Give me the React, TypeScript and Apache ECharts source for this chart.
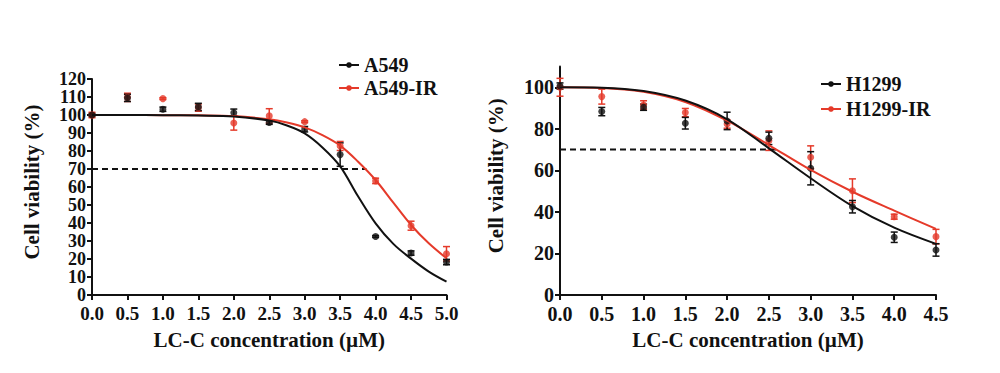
import React, { useEffect, useRef } from "react";
import * as echarts from "echarts";

// ---------- data ----------
const xA = [0, 0.5, 1, 1.5, 2, 2.5, 3, 3.5, 4, 4.5, 5];
const a549Mean = [100, 109.5, 103.2, 104.5, 101.3, 95.8, 92.1, 78.0, 32.5, 23.3, 18.3];
const a549Sem = [0.8, 2, 1.2, 2, 2, 1, 1.5, 6.5, 0.5, 1.2, 1.5];
const a549IrMean = [100, 109.8, 109.1, 104.1, 95.6, 99.5, 96.3, 82.8, 63.4, 38.5, 22.9];
const a549IrSem = [1.5, 2.3, 0.5, 2, 4, 4, 0.5, 2.5, 1.5, 2.5, 4];

const xFitA = [0, 0.5, 1, 1.5, 2, 2.5, 2.75, 3, 3.25, 3.5, 3.75, 4, 4.25, 4.5, 4.75, 5];
const a549Fit = [100, 100, 99.9, 99.7, 99.2, 96.9, 94.2, 89.8, 82, 71.5, 55, 39.8, 28.4, 20.2, 13, 7.4];
const a549IrFit = [100, 100, 99.9, 99.8, 99.4, 97.6, 95.8, 93.1, 88.8, 83.0, 74.2, 63.9, 51.3, 38.9, 28.7, 20.4];

const xB = [0, 0.5, 1, 1.5, 2, 2.5, 3, 3.5, 4, 4.5];
const h1299Mean = [100.6, 88.3, 90.4, 82.7, 83.8, 75.4, 61, 42.5, 27.8, 21.7];
const h1299Sem = [1.5, 2, 1.5, 2.8, 4.2, 3, 8, 3, 2.5, 3];
const h1299IrMean = [100, 95.5, 91.5, 87.8, 82.3, 74.3, 66.3, 50.2, 37.7, 28.1];
const h1299IrSem = [4.3, 3.6, 2, 2, 2, 4.7, 5.5, 5.7, 1.2, 3.5];

const xFitB = [0, 0.5, 1, 1.5, 2, 2.5, 3, 3.5, 4, 4.5];
const h1299Fit = [100, 99.8, 98.2, 93.6, 84.6, 70.6, 56.2, 42.8, 32.4, 24.6];
const h1299IrFit = [100, 99.7, 97.8, 92.9, 83.9, 72.2, 60.2, 49.7, 40.6, 31.8];

const dashA = [[0, 70], [3.87, 70]];
const dashB = [[0, 70], [2.6, 70]];

const yTicksB = [0, 20, 40, 60, 80, 100];

const BLACK = "#111111";
const RED = "#e53a2a";
const FONT = "'Liberation Serif', 'Times New Roman', serif";

const zip = (xs: number[], ys: number[]) => xs.map((x, i) => [x, ys[i]]);
const zip3 = (xs: number[], ys: number[], es: number[]) => xs.map((x, i) => [x, ys[i], es[i]]);

function errorSeries(name: string, idx: number, data: number[][], color: string, z: number) {
  return {
    type: "custom",
    name,
    xAxisIndex: idx,
    yAxisIndex: idx,
    z,
    encode: { x: 0, y: 1 },
    data,
    renderItem: (_params: any, api: any) => {
      const x = api.value(0);
      const m = api.value(1);
      const s = api.value(2);
      const top = api.coord([x, m + s]);
      const bot = api.coord([x, m - s]);
      const w = 3.5;
      const style = { stroke: color, lineWidth: 1.5 };
      return {
        type: "group",
        children: [
          { type: "line", shape: { x1: top[0], y1: top[1], x2: bot[0], y2: bot[1] }, style },
          { type: "line", shape: { x1: top[0] - w, y1: top[1], x2: top[0] + w, y2: top[1] }, style },
          { type: "line", shape: { x1: bot[0] - w, y1: bot[1], x2: bot[0] + w, y2: bot[1] }, style },
        ],
      };
    },
  };
}

function dotSeries(name: string, idx: number, data: number[][], color: string, z: number) {
  return {
    type: "scatter",
    name,
    xAxisIndex: idx,
    yAxisIndex: idx,
    z,
    symbol: "circle",
    symbolSize: 7,
    itemStyle: { color },
    data,
  };
}

function fitSeries(name: string, idx: number, data: number[][], color: string, z: number) {
  return {
    type: "line",
    name,
    xAxisIndex: idx,
    yAxisIndex: idx,
    z,
    smooth: 0.35,
    symbol: "circle",
    symbolSize: 7,
    showSymbol: false,
    itemStyle: { color },
    lineStyle: { color, width: 2 },
    data,
  };
}

function dashSeries(idx: number, data: number[][]) {
  return {
    type: "line",
    name: "ref" + idx,
    xAxisIndex: idx,
    yAxisIndex: idx,
    z: 1,
    symbol: "none",
    lineStyle: { color: BLACK, width: 2, type: [6, 4] },
    data,
  };
}

const axisLineStyle = { lineStyle: { color: BLACK, width: 2 } };
const tickStyle = { show: true, length: 5, lineStyle: { color: BLACK, width: 2 } };

export default function App() {
  const ref = useRef<HTMLDivElement>(null);
  useEffect(() => {
    if (!ref.current) return;
    const chart = echarts.init(ref.current, null, { renderer: "svg" });
    const xAxisCommon = (idx: number, max: number, labelSize: number) => ({
      type: "value",
      gridIndex: idx,
      min: 0,
      max,
      interval: 0.5,
      splitLine: { show: false },
      axisLine: { show: true, onZero: false, ...axisLineStyle },
      axisTick: tickStyle,
      axisLabel: {
        margin: 9,
        color: BLACK,
        fontFamily: FONT,
        fontWeight: "bold",
        fontSize: labelSize,
        showMinLabel: true,
        showMaxLabel: true,
        formatter: (v: number) => v.toFixed(1),
      },
      name: "LC-C concentration (µM)",
      nameLocation: "middle",
      nameGap: 34,
      nameTextStyle: { color: BLACK, fontFamily: FONT, fontWeight: "bold", fontSize: 21 },
    });
    const option: any = {
      animation: false,
      backgroundColor: "#ffffff",
      grid: [
        { left: 92, top: 79, width: 354.5, height: 216 },
        { left: 560, top: 66.5, width: 376, height: 228.5 },
      ],
      legend: [
        {
          data: ["A549", "A549-IR"],
          orient: "vertical",
          left: 333,
          top: 50,
          itemWidth: 20,
          itemHeight: 7,
          itemGap: 3,
          textStyle: { color: BLACK, fontFamily: FONT, fontWeight: "bold", fontSize: 20 },
        },
        {
          data: ["H1299", "H1299-IR"],
          orient: "vertical",
          left: 815,
          top: 69,
          itemWidth: 20,
          itemHeight: 7,
          itemGap: 5,
          textStyle: { color: BLACK, fontFamily: FONT, fontWeight: "bold", fontSize: 20 },
        },
      ],
      xAxis: [xAxisCommon(0, 5, 19), xAxisCommon(1, 4.5, 20)],
      yAxis: [
        {
          type: "value",
          gridIndex: 0,
          min: 0,
          max: 120,
          interval: 10,
          splitLine: { show: false },
          axisLine: { show: true, onZero: false, ...axisLineStyle },
          axisTick: tickStyle,
          axisLabel: {
            margin: 6,
            color: BLACK,
            fontFamily: FONT,
            fontWeight: "bold",
            fontSize: 18,
            lineHeight: 16,
            interval: 0,
            hideOverlap: false,
            showMinLabel: true,
            showMaxLabel: true,
          },
          name: "Cell viability (%)",
          nameLocation: "middle",
          nameGap: 50,
          nameTextStyle: {
            color: BLACK,
            fontFamily: FONT,
            fontWeight: "bold",
            fontSize: 21,
            padding: [0, 0, 0, 10],
          },
        },
        {
          type: "value",
          gridIndex: 1,
          min: 0,
          max: 110,
          interval: 20,
          splitLine: { show: false },
          axisLine: { show: true, onZero: false, ...axisLineStyle },
          axisTick: { ...tickStyle, customValues: yTicksB },
          axisLabel: {
            margin: 6,
            color: BLACK,
            fontFamily: FONT,
            fontWeight: "bold",
            fontSize: 20,
            customValues: yTicksB,
          },
          name: "Cell viability (%)",
          nameLocation: "middle",
          nameGap: 54,
          nameTextStyle: {
            color: BLACK,
            fontFamily: FONT,
            fontWeight: "bold",
            fontSize: 21,
            padding: [0, 0, 0, 10],
          },
        },
      ],
      series: [
        fitSeries("A549", 0, zip(xFitA, a549Fit), BLACK, 6),
        fitSeries("A549-IR", 0, zip(xFitA, a549IrFit), RED, 5),
        fitSeries("H1299", 1, zip(xFitB, h1299Fit), BLACK, 6),
        fitSeries("H1299-IR", 1, zip(xFitB, h1299IrFit), RED, 5),
        dashSeries(0, dashA),
        dashSeries(1, dashB),
        errorSeries("A549-IR", 0, zip3(xA, a549IrMean, a549IrSem), RED, 2),
        dotSeries("A549-IR", 0, zip(xA, a549IrMean), RED, 3),
        errorSeries("A549", 0, zip3(xA, a549Mean, a549Sem), BLACK, 3),
        dotSeries("A549", 0, zip(xA, a549Mean), BLACK, 4),
        errorSeries("H1299-IR", 1, zip3(xB, h1299IrMean, h1299IrSem), RED, 2),
        dotSeries("H1299-IR", 1, zip(xB, h1299IrMean), RED, 3),
        errorSeries("H1299", 1, zip3(xB, h1299Mean, h1299Sem), BLACK, 3),
        dotSeries("H1299", 1, zip(xB, h1299Mean), BLACK, 4),
      ],
    };
    chart.setOption(option);
    return () => chart.dispose();
  }, []);
  return (
    <div
      ref={ref}
      style={{ position: "fixed", left: 0, top: 0, width: 1000, height: 373, background: "#fff" }}
    />
  );
}
